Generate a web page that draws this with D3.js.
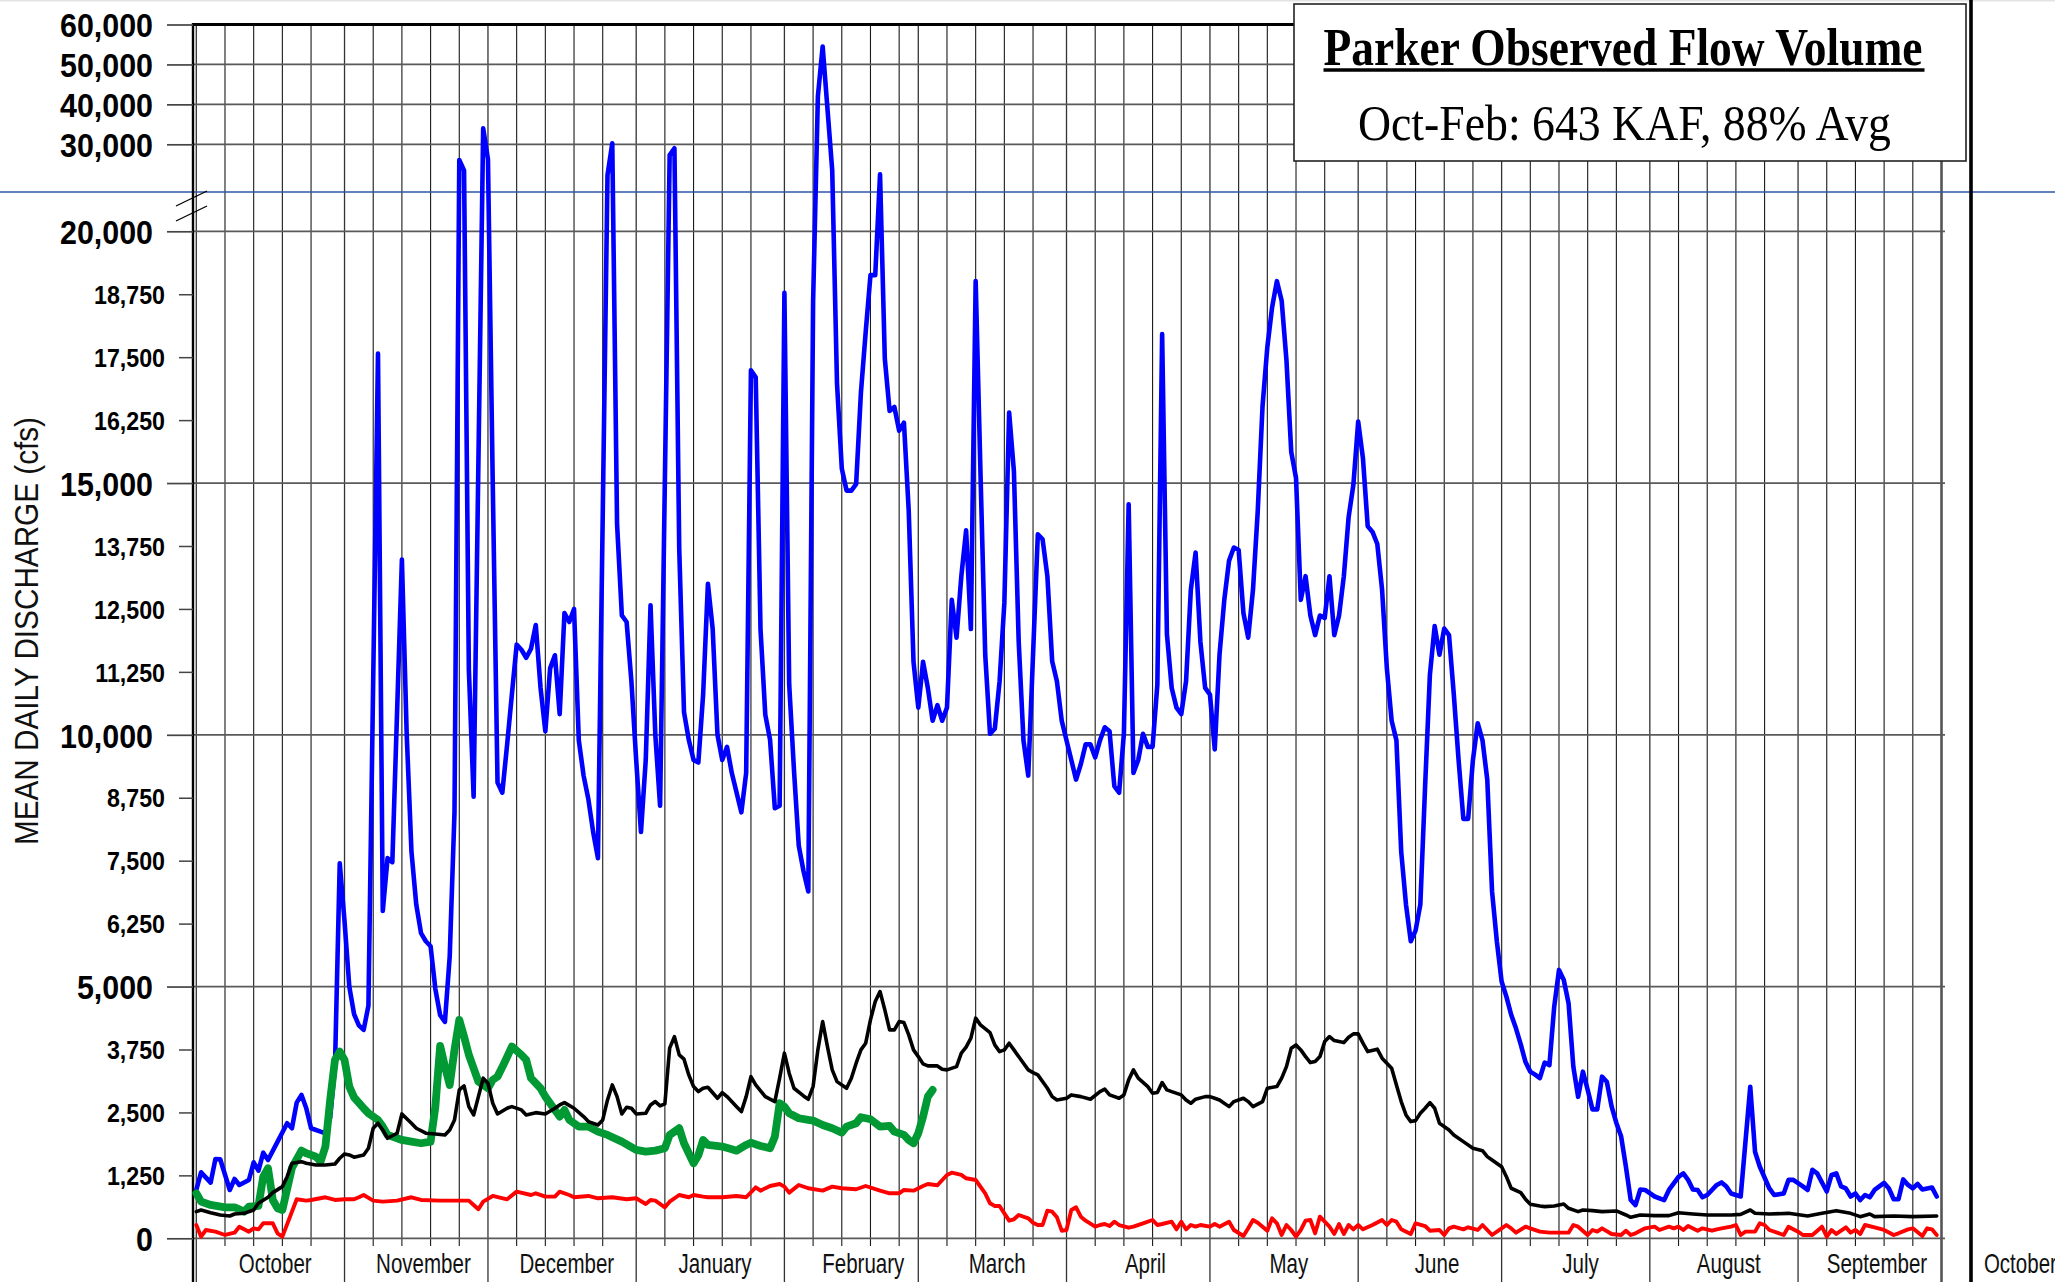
<!DOCTYPE html>
<html><head><meta charset="utf-8">
<script src="https://cdn.jsdelivr.net/npm/d3@7"></script>
<style>
html,body{margin:0;padding:0;background:#fff;}
svg{display:block;}
</style></head>
<body><svg id="chart" width="2055" height="1282"></svg>
<script>
// ---------------- DATA ----------------
const monthNames = ["October","November","December","January","February","March","April","May","June","July","August","September","October"];
const monthStartDays = [0,31,61,92,123,151,182,212,243,273,304,335,365];
const gridOffsets = [6,12,18,24];
const minorTicks = [1250,2500,3750,6250,7500,8750,11250,12500,13750,16250,17500,18750];
const majorTicks = [0,5000,10000,15000,20000,30000,40000,50000,60000];
const titleText = "Parker Observed Flow Volume";
const subtitleText = "Oct-Feb: 643 KAF, 88% Avg";
const yAxisTitle = "MEAN DAILY DISCHARGE (cfs)";

// [day since Oct 1, mean daily discharge cfs]
const maxFlow = [[0,960],[1,1310],[3,1105],[4,1576],[5,1570],[7,960],[8,1178],[9,1059],[11,1158],[12,1510],[13,1343],[14,1701],[15,1556],[17,1920],[19,2285],[20,2186],[21,2695],[22,2848],[23,2583],[24,2186],[26,2118],[27,2087],[28,2400],[29,3400],[30,7450],[31,6300],[32,5000],[33,4450],[34,4230],[35,4140],[36,4620],[38,17570],[39,6500],[40,7550],[41,7470],[43,13480],[44,10020],[45,7680],[46,6630],[47,6060],[48,5900],[49,5800],[50,4950],[51,4430],[52,4300],[53,5600],[54,8460],[55,28190],[56,27000],[57,11300],[58,8770],[60,34000],[61,28270],[62,15000],[63,9050],[64,8850],[65,9800],[66,10800],[67,11790],[68,11690],[69,11530],[70,11710],[71,12180],[72,10930],[73,10070],[74,11320],[75,11580],[76,10410],[77,12420],[78,12240],[79,12500],[80,9890],[81,9190],[82,8720],[83,8070],[84,7550],[86,26460],[87,30250],[88,14190],[89,12370],[90,12240],[91,11060],[92,9500],[93,8070],[94,9500],[95,12570],[96,10000],[97,8590],[99,28770],[100,29540],[101,13700],[102,10450],[103,9900],[104,9500],[105,9450],[106,10800],[107,13000],[108,12100],[109,10000],[110,9500],[111,9760],[112,9240],[114,8460],[115,9240],[116,17240],[117,17100],[118,12100],[119,10400],[120,9900],[121,8540],[122,8590],[123,18780],[124,11000],[125,9300],[126,7800],[127,7290],[128,6890],[129,18600],[130,42000],[131,54500],[132,39000],[133,27000],[134,16980],[135,15290],[136,14850],[137,14850],[138,14980],[139,16790],[140,18000],[141,19130],[142,19130],[143,26540],[144,17470],[145,16430],[146,16510],[147,16040],[148,16200],[149,14450],[150,11450],[151,10540],[152,11450],[153,10930],[154,10280],[155,10590],[156,10280],[157,10540],[158,12680],[159,11930],[160,13150],[161,14060],[162,12100],[163,19010],[164,15230],[165,11590],[166,10020],[167,10120],[168,11060],[169,12620],[170,16400],[171,15230],[172,11850],[173,9890],[174,9190],[175,11590],[176,13980],[177,13880],[178,13150],[179,11460],[180,11060],[181,10280],[183,9500],[184,9110],[185,9420],[186,9810],[187,9810],[188,9550],[189,9890],[190,10150],[191,10070],[192,8980],[193,8850],[194,10020],[195,14580],[196,9240],[197,9500],[198,10020],[199,9760],[200,9760],[201,11000],[202,17960],[203,12000],[204,10930],[205,10540],[206,10410],[207,11060],[208,12880],[209,13620],[210,11850],[211,10930],[212,10800],[213,9710],[214,11590],[215,12680],[216,13460],[217,13720],[218,13670],[219,12420],[220,11930],[221,12880],[222,14450],[223,16530],[224,17700],[225,18490],[226,19010],[227,18620],[228,17440],[229,15620],[230,15100],[231,12680],[232,13150],[233,12370],[234,11980],[235,12370],[236,12320],[237,13150],[238,11980],[239,12370],[240,13150],[241,14320],[242,14970],[243,16220],[244,15490],[245,14140],[246,14030],[247,13790],[248,12880],[249,11320],[250,10280],[251,9890],[252,7680],[253,6630],[254,5900],[255,6110],[256,6630],[257,8980],[258,11190],[259,12160],[260,11590],[261,12110],[262,11980],[263,10800],[264,9500],[265,8330],[266,8330],[267,9500],[268,10230],[269,9890],[270,9110],[271,6890],[272,5900],[273,5100],[274,4800],[275,4440],[276,4170],[277,3850],[278,3500],[279,3310],[280,3250],[281,3180],[282,3490],[283,3440],[284,4600],[285,5330],[286,5130],[287,4670],[288,3410],[289,2810],[290,3310],[291,2950],[292,2560],[293,2560],[294,3210],[295,3110],[296,2620],[297,2290],[298,2020],[299,1420],[300,760],[301,660],[302,970],[303,960],[305,830],[307,760],[308,960],[310,1220],[311,1290],[312,1160],[313,970],[314,960],[315,815],[316,860],[318,1060],[319,1110],[320,1030],[321,890],[323,830],[325,3010],[326,1720],[327,1420],[329,990],[330,860],[332,890],[333,1160],[334,1160],[336,1030],[337,960],[338,1360],[339,1290],[341,930],[342,1260],[343,1290],[344,1030],[345,990],[346,830],[347,890],[348,760],[349,860],[350,815],[351,960],[353,1100],[354,990],[355,775],[356,775],[357,1170],[358,1060],[359,990],[360,1080],[361,970],[363,1010],[364,830]];

const avgFlow = [[0,529],[1,562],[3,509],[5,463],[7,443],[8,483],[10,496],[12,562],[13,695],[15,815],[16,907],[18,1026],[19,1224],[20,1490],[22,1522],[23,1490],[25,1457],[27,1457],[29,1476],[30,1590],[31,1675],[32,1655],[33,1610],[35,1655],[36,1788],[37,2186],[38,2285],[39,2152],[40,1987],[42,2087],[43,2470],[45,2285],[46,2186],[48,2087],[50,2073],[52,2053],[53,2152],[54,2351],[55,2947],[56,3027],[57,2615],[58,2450],[59,2814],[60,3180],[61,3080],[62,2682],[63,2470],[65,2583],[66,2615],[68,2550],[69,2450],[71,2496],[73,2470],[75,2583],[76,2649],[77,2695],[79,2583],[81,2417],[82,2318],[84,2251],[85,2351],[86,2748],[87,3046],[88,2814],[89,2470],[90,2603],[91,2583],[92,2470],[94,2484],[95,2649],[96,2715],[97,2629],[98,2669],[99,3776],[100,4006],[101,3643],[102,3557],[103,3245],[104,3013],[105,2914],[106,2980],[107,3000],[109,2782],[110,2894],[111,2814],[113,2615],[114,2516],[115,2814],[116,3211],[117,3046],[119,2814],[121,2715],[122,3180],[123,3677],[124,3279],[125,2980],[127,2828],[128,2762],[129,3013],[130,3742],[131,4305],[132,3808],[133,3345],[134,3112],[136,2980],[137,3180],[138,3478],[139,3742],[140,3875],[141,4338],[142,4702],[143,4901],[144,4537],[145,4139],[146,4139],[147,4305],[148,4285],[149,4040],[150,3742],[151,3609],[152,3464],[153,3424],[155,3424],[156,3358],[157,3345],[159,3410],[160,3677],[161,3796],[162,3975],[163,4372],[164,4239],[166,4086],[167,3841],[168,3708],[169,3742],[170,3875],[171,3742],[173,3478],[174,3345],[175,3291],[176,3245],[178,2980],[179,2814],[180,2748],[182,2782],[183,2848],[185,2814],[187,2762],[189,2914],[190,2961],[191,2848],[193,2782],[194,2848],[195,3146],[196,3345],[197,3180],[199,3013],[200,2881],[201,2894],[202,3093],[203,2947],[204,2914],[206,2848],[207,2748],[208,2682],[209,2762],[211,2814],[212,2814],[213,2782],[214,2748],[216,2615],[217,2715],[219,2782],[220,2715],[221,2615],[223,2715],[224,2980],[226,3013],[227,3180],[228,3410],[229,3776],[230,3841],[231,3742],[232,3609],[233,3490],[234,3510],[235,3609],[236,3907],[237,4006],[238,3927],[240,3887],[241,3994],[242,4060],[243,4060],[244,3875],[245,3708],[247,3756],[248,3577],[250,3378],[251,3046],[252,2715],[253,2450],[254,2318],[255,2337],[256,2484],[257,2583],[258,2695],[259,2583],[260,2285],[262,2152],[263,2053],[265,1920],[267,1788],[269,1741],[270,1622],[271,1556],[273,1423],[274,1224],[275,994],[277,907],[278,775],[279,676],[281,642],[282,629],[284,642],[286,682],[287,596],[289,529],[290,562],[292,549],[294,529],[297,543],[299,463],[300,417],[302,463],[305,450],[308,450],[310,509],[313,483],[316,463],[319,463],[321,463],[323,476],[325,562],[326,496],[329,483],[333,496],[337,443],[340,496],[343,549],[346,496],[348,430],[350,483],[351,430],[355,443],[359,430],[364,443]];

const minFlow = [[0,264],[1,33],[2,165],[4,132],[6,66],[8,112],[9,231],[11,132],[12,198],[13,178],[14,298],[16,298],[17,99],[18,33],[21,775],[23,748],[24,761],[27,815],[29,761],[31,775],[33,775],[34,815],[35,860],[37,748],[39,728],[42,748],[45,815],[47,761],[51,748],[54,748],[57,748],[58,662],[59,576],[60,728],[62,841],[65,775],[67,927],[70,860],[71,894],[73,827],[75,827],[76,927],[78,860],[79,815],[82,841],[84,795],[87,815],[90,775],[92,795],[94,682],[95,761],[96,748],[98,616],[99,728],[101,860],[103,815],[104,860],[106,827],[107,815],[110,815],[113,841],[115,815],[117,1013],[118,946],[120,1039],[122,1079],[123,1026],[124,907],[126,1059],[128,994],[131,946],[133,1026],[135,994],[138,974],[140,1039],[143,946],[145,894],[147,894],[148,960],[150,946],[152,1039],[153,1079],[155,1053],[157,1258],[158,1304],[160,1258],[161,1192],[163,1158],[165,894],[166,695],[167,642],[168,642],[169,496],[170,350],[171,377],[172,463],[174,397],[175,310],[176,264],[177,264],[178,549],[179,529],[180,417],[181,151],[182,165],[183,562],[184,616],[185,430],[186,350],[188,231],[189,264],[190,284],[191,244],[192,330],[193,264],[195,211],[196,231],[198,298],[200,364],[201,264],[202,284],[204,330],[205,178],[206,330],[207,178],[208,264],[209,231],[210,264],[212,231],[213,284],[214,231],[216,330],[217,165],[219,46],[220,198],[221,364],[222,310],[224,151],[225,397],[226,298],[227,66],[228,264],[229,165],[230,33],[231,165],[232,350],[233,364],[234,99],[235,430],[236,330],[237,231],[238,86],[239,284],[240,86],[241,264],[242,178],[243,264],[244,178],[246,264],[248,364],[249,264],[250,364],[251,330],[252,178],[254,86],[255,298],[257,244],[258,151],[260,165],[261,66],[262,198],[263,231],[265,178],[266,218],[268,165],[269,264],[271,66],[273,198],[274,264],[275,198],[276,112],[278,231],[279,198],[281,132],[283,112],[285,112],[287,112],[288,264],[289,231],[291,66],[292,165],[293,132],[294,198],[296,86],[298,66],[299,151],[300,66],[301,99],[303,198],[305,231],[306,165],[308,231],[309,198],[310,231],[311,165],[312,244],[314,151],[315,198],[317,151],[318,178],[319,198],[321,231],[322,264],[323,66],[324,132],[326,132],[327,298],[328,264],[329,165],[332,66],[333,231],[335,132],[336,66],[338,66],[340,231],[341,33],[342,165],[343,86],[345,218],[346,112],[347,165],[348,86],[349,264],[351,218],[353,165],[355,66],[356,99],[358,178],[359,198],[361,46],[362,198],[363,178],[364,66]];

const obsFlow = [[0,894],[1,728],[3,662],[6,616],[8,616],[10,529],[11,629],[13,642],[14,1224],[15,1391],[16,761],[17,596],[18,562],[20,1400],[22,1741],[23,1689],[25,1622],[26,1522],[27,1820],[28,2748],[29,3543],[30,3708],[31,3543],[32,3013],[33,2800],[35,2583],[36,2484],[38,2351],[39,2218],[40,2053],[42,1987],[43,1953],[45,1920],[47,1888],[49,1920],[50,2615],[51,3821],[52,3410],[53,3046],[54,3742],[55,4338],[56,4006],[57,3643],[58,3378],[59,3112],[61,2980],[62,3146],[63,3211],[64,3400],[65,3600],[66,3808],[68,3643],[69,3543],[70,3180],[72,2980],[73,2814],[75,2550],[76,2417],[77,2550],[78,2351],[80,2218],[82,2218],[84,2118],[86,2053],[89,1920],[92,1755],[94,1721],[96,1741],[98,1788],[99,2053],[101,2186],[102,1888],[104,1490],[105,1650],[106,1953],[107,1854],[110,1821],[112,1768],[113,1741],[115,1854],[116,1900],[118,1834],[120,1788],[121,2019],[122,2682],[123,2615],[124,2484],[126,2385],[128,2351],[129,2337],[131,2251],[133,2186],[135,2099],[136,2218],[138,2285],[139,2404],[141,2365],[143,2218],[145,2232],[146,2118],[148,2053],[149,1953],[150,1888],[151,2087],[152,2417],[153,2814],[154,2947]];

// ---------------- LAYOUT ----------------
const W = 2055, H = 1282;
const axisX = 193, gridRight = 1945, plotTop = 24.5;
const svg = d3.select('#chart');
const x = d3.scaleLinear().domain([0, 365]).range([196.3, 1941.5]);
const y = d3.scaleLinear().domain([0, 20000, 30000, 60000]).range([1238.3, 231.3, 144.3, 24.5]);

const SANS_N = "'Liberation Sans Narrow','Arial Narrow','Liberation Sans',Arial,sans-serif";
const SERIF = "'Liberation Serif','Times New Roman',serif";

function measure(str, fam, size, weight) {
  const t = svg.append('text').attr('font-family', fam).attr('font-size', size).attr('font-weight', weight).text(str);
  const w = t.node().getComputedTextLength();
  t.remove();
  return w;
}
function fitGroup(sel, fam, size, weight, refStr, refW) {
  const k = refW / measure(refStr, fam, size, weight);
  sel.each(function () {
    const w = this.getComputedTextLength();
    d3.select(this).attr('textLength', w * k).attr('lengthAdjust', 'spacingAndGlyphs');
  });
}

// faint top line
svg.append('line').attr('x1', 0).attr('x2', W).attr('y1', 0.8).attr('y2', 0.8).attr('stroke', '#e4e4e4').attr('stroke-width', 1.5);

// vertical grid
const vg = svg.append('g');
const monthLines = monthStartDays.slice(0, 12);
const innerLines = [];
monthLines.forEach(s => gridOffsets.forEach(o => innerLines.push(s + o)));
vg.selectAll('line.inner').data(innerLines).join('line')
  .attr('x1', d => x(d)).attr('x2', d => x(d)).attr('y1', plotTop).attr('y2', 1246)
  .attr('stroke', '#1a1a1a').attr('stroke-width', 1.1);
vg.selectAll('line.month').data(monthLines).join('line')
  .attr('x1', d => x(d)).attr('x2', d => x(d)).attr('y1', plotTop).attr('y2', H)
  .attr('stroke', '#333').attr('stroke-width', 1.3);
vg.append('line').attr('x1', x(365)).attr('x2', x(365)).attr('y1', plotTop).attr('y2', H)
  .attr('stroke', '#555').attr('stroke-width', 2.6);

// horizontal major grid
svg.append('g').selectAll('line').data(majorTicks.filter(v => v < 60000)).join('line')
  .attr('x1', axisX).attr('x2', gridRight).attr('y1', d => y(d)).attr('y2', d => y(d))
  .attr('stroke', '#5a5a5a').attr('stroke-width', 1.7);

// artifact blue line
svg.append('line').attr('x1', 0).attr('x2', W).attr('y1', 192).attr('y2', 192).attr('stroke', '#2c56a8').attr('stroke-width', 1.3);

// top border
svg.append('line').attr('x1', axisX).attr('x2', gridRight).attr('y1', y(60000)).attr('y2', y(60000)).attr('stroke', '#000').attr('stroke-width', 3.2);

// left axis line
svg.append('line').attr('x1', axisX).attr('x2', axisX).attr('y1', plotTop - 1.5).attr('y2', H).attr('stroke', '#000').attr('stroke-width', 2.4);

// y axis major
const gMaj = svg.append('g').attr('transform', `translate(${axisX},0)`)
  .call(d3.axisLeft(y).tickValues(majorTicks).tickSizeInner(26).tickSizeOuter(0).tickPadding(14).tickFormat(d3.format(',')));
gMaj.select('.domain').remove();
gMaj.selectAll('line').attr('stroke', '#444').attr('stroke-width', 1.7);
const majText = gMaj.selectAll('text').attr('font-family', SANS_N).attr('font-size', 34).attr('font-weight', 'bold').attr('fill', '#000').attr('dy', '0.36em');
fitGroup(majText, SANS_N, 34, 'bold', '60,000', 93);

// y axis minor
const gMin = svg.append('g').attr('transform', `translate(${axisX},0)`)
  .call(d3.axisLeft(y).tickValues(minorTicks).tickSizeInner(14).tickSizeOuter(0).tickPadding(14).tickFormat(d3.format(',')));
gMin.select('.domain').remove();
gMin.selectAll('line').attr('stroke', '#444').attr('stroke-width', 1.5);
const minText = gMin.selectAll('text').attr('font-family', SANS_N).attr('font-size', 25.5).attr('font-weight', 'bold').attr('fill', '#000').attr('dy', '0.36em');
fitGroup(minText, SANS_N, 25.5, 'bold', '16,250', 71);

// axis break marks
const brk = svg.append('g').attr('stroke', '#000').attr('stroke-width', 1.3);
brk.append('line').attr('x1', 176).attr('y1', 206).attr('x2', 207).attr('y2', 191);
brk.append('line').attr('x1', 176).attr('y1', 221).attr('x2', 207).attr('y2', 206);

// series
const line = d3.line().x(d => x(d[0])).y(d => y(d[1]));
function drawSeries(data, color, width) {
  svg.append('path').datum(data).attr('d', line).attr('fill', 'none').attr('stroke', color)
    .attr('stroke-width', width).attr('stroke-linejoin', 'round').attr('stroke-linecap', 'round');
}
drawSeries(maxFlow, '#0000ff', 4.6);
drawSeries(obsFlow, '#009933', 7.8);
drawSeries(minFlow, '#ff0000', 3.9);
drawSeries(avgFlow, '#000000', 3.6);

// month labels
const mLab = svg.append('g').selectAll('text').data(monthNames).join('text')
  .attr('x', (d, i) => x(monthStartDays[i] + 16.5)).attr('y', 1273.3)
  .attr('text-anchor', 'middle').attr('font-family', SANS_N).attr('font-size', 28.5).attr('fill', '#111')
  .text(d => d);
fitGroup(mLab, SANS_N, 28.5, 'normal', 'October', 73);

// y axis title
const yt = svg.append('text').attr('transform', 'translate(38,631) rotate(-90)')
  .attr('text-anchor', 'middle').attr('font-family', SANS_N).attr('font-size', 33).attr('fill', '#111')
  .text(yAxisTitle);
{
  const w = yt.node().getComputedTextLength();
  yt.attr('textLength', 428).attr('lengthAdjust', w < 428 ? 'spacing' : 'spacingAndGlyphs');
}

// title box
svg.append('rect').attr('x', 1294).attr('y', 4).attr('width', 672).attr('height', 157)
  .attr('fill', '#fff').attr('stroke', '#222').attr('stroke-width', 1.6);
svg.append('text').attr('x', 1623).attr('y', 65).attr('text-anchor', 'middle')
  .attr('font-family', SERIF).attr('font-weight', 'bold').attr('font-size', 53).attr('fill', '#000')
  .attr('textLength', 599).attr('lengthAdjust', 'spacingAndGlyphs').text(titleText);
svg.append('line').attr('x1', 1323.5).attr('x2', 1924.5).attr('y1', 70).attr('y2', 70).attr('stroke', '#000').attr('stroke-width', 3.6);
svg.append('text').attr('x', 1624.5).attr('y', 140).attr('text-anchor', 'middle')
  .attr('font-family', SERIF).attr('font-size', 51).attr('fill', '#000')
  .attr('textLength', 533).attr('lengthAdjust', 'spacingAndGlyphs').text(subtitleText);

// right frame
svg.append('line').attr('x1', 1971).attr('x2', 1971).attr('y1', 0).attr('y2', H).attr('stroke', '#000').attr('stroke-width', 3.6);
</script>
</body></html>
